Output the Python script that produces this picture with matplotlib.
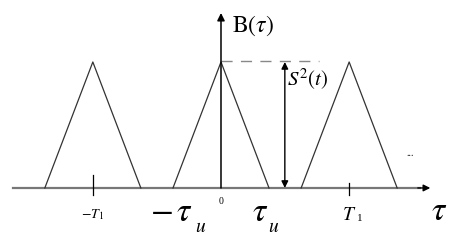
import matplotlib
matplotlib.use("Agg")
import matplotlib.pyplot as plt
import numpy as np

plt.rcParams['mathtext.fontset'] = 'stix'
plt.rcParams['font.family'] = ['Liberation Serif', 'DejaVu Serif']

# data (units: tau_u = 1, peak S^2 = 1)
tau_u = 1.0
T1 = 2.67
peak = 1.0
centers = [-T1, 0.0, T1]

fig = plt.figure(figsize=(4.61, 2.41), dpi=100)
ax = fig.add_axes([0, 0, 1, 1])
ax.set_xlim(-4.604, 5.0)
ax.set_ylim(-0.421, 1.492)
ax.axis('off')

line_col = '#333333'
# baseline axis
ax.plot([-4.33, 4.15], [0, 0], color='#777777', lw=1.6, zorder=1)
ax.annotate('', xy=(4.36, 0), xytext=(4.1, 0),
            arrowprops=dict(arrowstyle='-|>', color='black', lw=1.0,
                            mutation_scale=10, shrinkA=0, shrinkB=0))
# vertical axis
ax.annotate('', xy=(0, 1.389), xytext=(0, 0),
            arrowprops=dict(arrowstyle='-|>', color='black', lw=1.1,
                            mutation_scale=11, shrinkA=0, shrinkB=0))

# triangles
for c in centers:
    ax.plot([c - tau_u, c, c + tau_u], [0, peak, 0], color=line_col, lw=0.9, zorder=2)

# ticks at +-T1
ax.plot([-T1, -T1], [-0.055, 0.105], color='black', lw=0.9)
ax.plot([T1, T1], [-0.055, 0.04], color='black', lw=0.9)

# dashed peak level line
ax.plot([0, 2.05], [peak + 0.008, peak + 0.008], color='#888888', lw=1.0,
        dashes=(8, 6), zorder=1)

# double arrow for S^2(t)
xs = 1.33
ax.annotate('', xy=(xs, peak), xytext=(xs, 0),
            arrowprops=dict(arrowstyle='<|-|>', color='black', lw=1.0,
                            mutation_scale=10, shrinkA=0, shrinkB=0))

# labels
ax.text(0.22, 1.29, r'$\mathrm{B}(\tau)$', fontsize=17, ha='left', va='center')
ax.text(xs + 0.05, 0.86, r'$S^{2}(t)$', fontsize=15, ha='left', va='center')
ax.text(-T1, -0.21, r'$-T_{1}$', fontsize=10, ha='center', va='center')
ax.text(T1, -0.22, r'$T$', fontsize=14, ha='center', va='center')
ax.text(T1 + 0.22, -0.24, '1', fontsize=8, ha='center', va='center')
# -tau_u
ax.text(-1.02, -0.2, r'$-\,\tau$', fontsize=24, ha='center', va='center')
ax.text(-0.42, -0.31, r'$u$', fontsize=14, ha='center', va='center')
# tau_u
ax.text(0.81, -0.2, r'$\tau$', fontsize=24, ha='center', va='center')
ax.text(1.1, -0.31, r'$u$', fontsize=14, ha='center', va='center')
ax.text(0, -0.11, '0', fontsize=7, ha='center', va='center')
ax.text(4.55, -0.19, r'$\tau$', fontsize=24, ha='center', va='center')
ax.text(3.95, 0.27, '...', fontsize=7, ha='center', va='center')

fig.savefig('out.png', dpi=100)
